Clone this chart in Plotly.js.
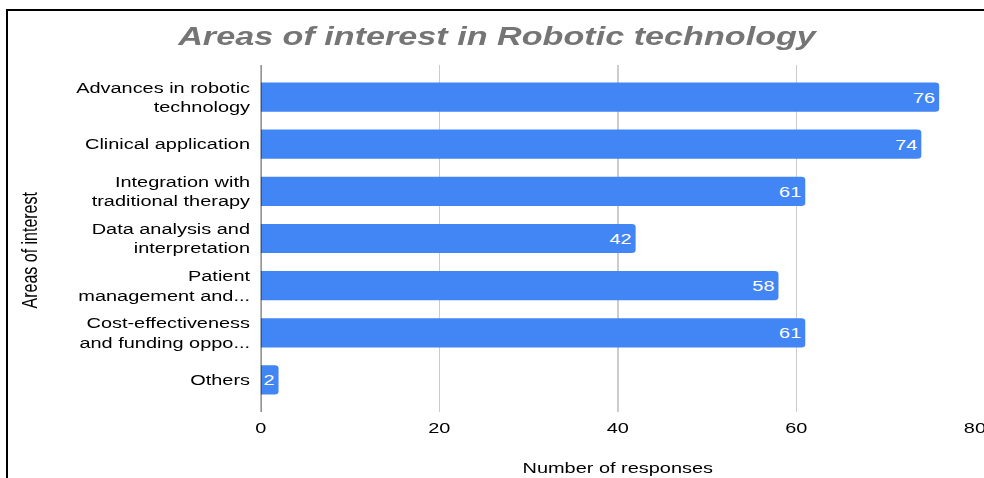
<!DOCTYPE html>
<html><head><meta charset="utf-8">
<script src="https://cdn.plot.ly/plotly-3.0.1.min.js"></script>
<style>
html,body{margin:0;padding:0;background:#fff;overflow:hidden;}
#wrap{position:relative;width:984px;height:478px;overflow:hidden;}
#chart{position:absolute;left:0;top:0;width:740px;height:478px;transform:scaleX(1.33);transform-origin:0 0;}
#frame{position:absolute;left:6px;top:9px;width:990px;height:480px;border-left:2px solid #000;border-top:2px solid #000;pointer-events:none;}
</style></head>
<body><div id="wrap"><div id="chart"></div><div id="frame"></div></div>
<script>
const categories = [
  "Advances in robotic<br>technology",
  "Clinical application",
  "Integration with<br>traditional therapy",
  "Data analysis and<br>interpretation",
  "Patient<br>management and...",
  "Cost-effectiveness<br>and funding oppo...",
  "Others"
];
const responses = [76, 74, 61, 42, 58, 61, 2];
const xTicks = [0, 20, 40, 60, 80];

const font = "Liberation Sans, Arial, sans-serif";
Plotly.newPlot("chart", [{
  type: "bar",
  orientation: "h",
  y: categories,
  x: responses,
  marker: {color: "#4285F4", cornerradius: 3},
  width: 0.62,
  text: responses.map(String),
  textposition: "inside",
  insidetextanchor: "end",
  constraintext: "none",
  textfont: {color: "#ffffff", size: 15, family: font},
  hoverinfo: "none"
}], {
  width: 740, height: 478,
  margin: {l: 196, r: 7, t: 65, b: 66},
  paper_bgcolor: "rgba(0,0,0,0)", plot_bgcolor: "#fff",
  showlegend: false,
  title: {text: "<b><i>Areas of interest in Robotic technology</i></b>", x: 0.505, xanchor: "center", y: 0.925, yanchor: "middle",
    font: {family: font, size: 25.7, color: "#757575"}},
  xaxis: {range: [0, 80], tickvals: xTicks, ticktext: xTicks.map(String),
    showgrid: true, gridcolor: "#cccccc", gridwidth: 1.1, zeroline: false, showline: false,
    ticklabelstandoff: 5, ticklabeloverflow: "allow",
    tickfont: {family: font, size: 15, color: "#000"},
    title: {text: "Number of responses", font: {family: font, size: 15, color: "#000"}, standoff: 27}},
  yaxis: {type: "category", range: [6.68, -0.68], categoryorder: "array", categoryarray: categories,
    showgrid: false, zeroline: false, showline: false, ticks: "", ticklabelstandoff: 7,
    tickfont: {family: font, size: 15, color: "#000"}},
  shapes: [{type: "line", xref: "x", yref: "paper", x0: 0, x1: 0, y0: 0, y1: 1, line: {color: "#222", width: 1.2}}],
  annotations: [{text: "Areas of interest", xref: "paper", yref: "paper", x: -0.323, y: 0.467, textangle: -90,
    showarrow: false, xanchor: "center", yanchor: "middle", font: {family: font, size: 16, color: "#000"}}]
}, {staticPlot: true});
</script></body></html>
